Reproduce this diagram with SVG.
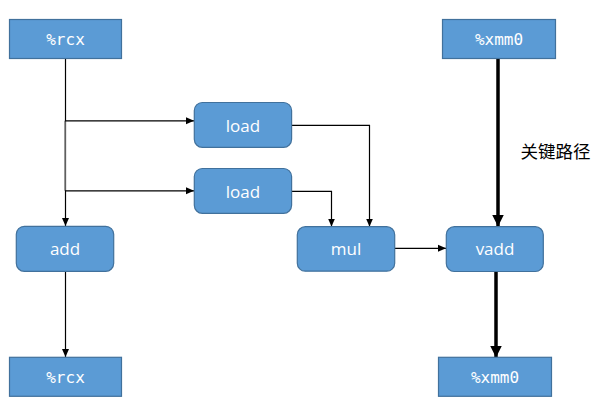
<svg xmlns="http://www.w3.org/2000/svg" width="611" height="414" viewBox="0 0 611 414">
<style>
.box{fill:#5B9BD5;stroke:#41719C;stroke-width:1.2}
.t{font-family:"Open Sans","Noto Sans","DejaVu Sans",sans-serif;font-size:17px;fill:#fff;text-anchor:middle;dominant-baseline:central}
.m{font-family:"DejaVu Sans Mono","Liberation Mono",monospace;font-size:16px;fill:#fff;text-anchor:middle;dominant-baseline:central}
.c{fill:none;stroke:#000;stroke-width:1.2}
.g{fill:none;stroke:#7f7f7f;stroke-width:1.5}
.k{fill:none;stroke:#000;stroke-width:3.5}
</style>
<defs>
<marker id="a" markerWidth="8" markerHeight="8" refX="8" refY="4" orient="auto" markerUnits="userSpaceOnUse"><path d="M0,0.5 L8,4 L0,7.5 Z" fill="#000"/></marker>
<marker id="ak" markerWidth="14" markerHeight="14" refX="12" refY="6" orient="auto" markerUnits="userSpaceOnUse"><path d="M0,0 L12,6 L0,12 Z" fill="#000"/></marker>
</defs>
<g id="connectors">
<path class="c" d="M65.5,58.5 V226" marker-end="url(#a)"/>
<path class="g" d="M65,120.8 V190.8"/>
<path class="c" d="M65,120.8 H194" marker-end="url(#a)"/>
<path class="c" d="M65,190.8 H194" marker-end="url(#a)"/>
<path class="c" d="M291.5,125.3 H369.5 V226.5" marker-end="url(#a)"/>
<path class="c" d="M291.5,191.3 H331.5 V226.5" marker-end="url(#a)"/>
<path class="c" d="M394.5,248.3 H446" marker-end="url(#a)"/>
<path class="c" d="M65.5,271.5 V357" marker-end="url(#a)"/>
<path class="k" d="M498,58.5 V226.5" marker-end="url(#ak)"/>
<path class="k" d="M496,271.5 V357.5" marker-end="url(#ak)"/>
<text x="555.5" y="150.5" style="font-family:'Noto Sans CJK SC',sans-serif;font-size:17.5px;fill:#000;text-anchor:middle;dominant-baseline:central">关键路径</text>
</g>
<g id="rcx_in"><rect class="box" x="9.5" y="19.5" width="112" height="39"/><text class="m" x="65.5" y="39">%rcx</text></g>
<g id="xmm0_in"><rect class="box" x="442.5" y="19.5" width="113" height="39"/><text class="m" x="499" y="39">%xmm0</text></g>
<g id="load1"><rect class="box" x="194.3" y="102.5" width="97.3" height="44.8" rx="8"/><text class="t" x="243" y="125">load</text></g>
<g id="load2"><rect class="box" x="194.3" y="168.5" width="97.3" height="44.8" rx="8"/><text class="t" x="243" y="191">load</text></g>
<g id="add"><rect class="box" x="16.3" y="226.3" width="97.4" height="45" rx="8"/><text class="t" x="65" y="248.5">add</text></g>
<g id="mul"><rect class="box" x="297.3" y="226.7" width="97.4" height="44.5" rx="8"/><text class="t" x="346" y="248.5">mul</text></g>
<g id="vadd"><rect class="box" x="446.3" y="226.7" width="97" height="44.8" rx="8"/><text class="t" x="495" y="248.5">vadd</text></g>
<g id="rcx_out"><rect class="box" x="9.5" y="357.3" width="112" height="39"/><text class="m" x="65.5" y="377">%rcx</text></g>
<g id="xmm0_out"><rect class="box" x="438.5" y="357.3" width="113" height="39"/><text class="m" x="495" y="377">%xmm0</text></g>
</svg>
